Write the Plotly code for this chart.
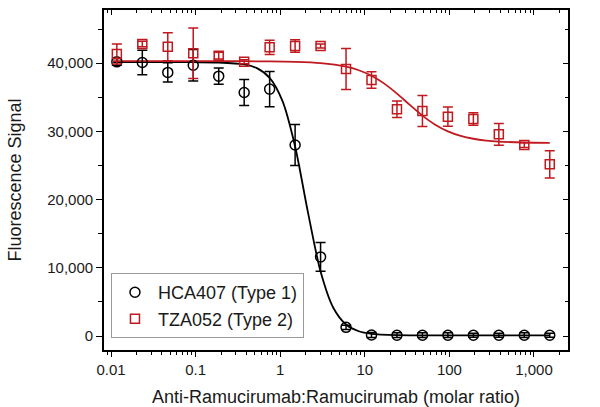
import plotly.graph_objects as go

# ---- data ----
ratio = [0.01171875, 0.0234375, 0.046875, 0.09375, 0.1875, 0.375, 0.75, 1.5, 3,
         6, 12, 24, 48, 96, 192, 384, 768, 1536]

hca407_signal = [40200, 40100, 38650, 39700, 38100, 35700, 36200, 28000, 11600,
                 1270, 150, 120, 120, 120, 120, 120, 120, 120]
hca407_err = [500, 1800, 1400, 2300, 1200, 1900, 2600, 3000, 2100,
              300, 350, 350, 350, 350, 300, 300, 350, 300]

tza052_signal = [41350, 42800, 42420, 41450, 41100, 40220, 42330, 42520, 42520,
                 39150, 37540, 33240, 32990, 32160, 31820, 29570, 28000, 25180]
tza052_err = [1450, 400, 2050, 3700, 500, 300, 1050, 900, 300,
              3000, 1200, 1200, 2270, 1400, 930, 1600, 350, 2000]

hca407_fit_x = [0.0106, 0.0234, 0.0469, 0.094, 0.1875, 0.375, 0.53, 0.75, 1.06, 1.5,
                2.12, 3, 4.24, 6, 8.49, 12, 24, 48, 96, 192, 384, 768, 1536]
hca407_fit_y = [40150, 40150, 40150, 40144, 40105, 39828, 39276, 37858, 34507, 27797,
                18239, 9449, 4145, 1689, 700, 324, 130, 104, 100, 100, 100, 100, 100]

tza052_fit_x = [0.0106, 0.0469, 0.1875, 0.75, 1.5, 3, 6, 8.49, 12, 17, 24, 34, 48,
                68, 96, 136, 192, 272, 384, 768, 1536]
tza052_fit_y = [40300, 40300, 40297, 40269, 40207, 40023, 39499, 38969, 38162, 37004,
                35539, 33887, 32312, 30979, 30005, 29339, 28922, 28664, 28512, 28371, 28324]

x_tick_vals = [0.01, 0.1, 1, 10, 100, 1000]
x_tick_text = ["0.01", "0.1", "1", "10", "100", "1,000"]
y_tick_vals = [0, 10000, 20000, 30000, 40000]
y_tick_text = ["0", "10,000", "20,000", "30,000", "40,000"]
y_minor_vals = [5000, 15000, 25000, 35000, 45000]

series_names = ["HCA407 (Type 1)", "TZA052 (Type 2)"]
x_title = "Anti-Ramucirumab:Ramucirumab (molar ratio)"
y_title = "Fluorescence Signal"

# ---- styling ----
RED = "#c0191f"
BLACK = "#000000"
FONT = "Arial, 'Liberation Sans', sans-serif"

x_minor_vals = [m * 10 ** d for d in range(-3, 4) for m in range(2, 10)]
x_range = [-2.083, 3.402]
y_range = [-2050, 47800]

fig = go.Figure()

fig.add_trace(go.Scatter(x=hca407_fit_x, y=hca407_fit_y, mode="lines",
                         line=dict(color=BLACK, width=1.8, shape="spline", smoothing=0.8),
                         showlegend=False, hoverinfo="skip"))
fig.add_trace(go.Scatter(x=tza052_fit_x, y=tza052_fit_y, mode="lines",
                         line=dict(color=RED, width=1.8, shape="spline", smoothing=0.8),
                         showlegend=False, hoverinfo="skip"))

fig.add_trace(go.Scatter(
    x=ratio, y=hca407_signal, mode="markers", name=series_names[0],
    marker=dict(symbol="circle-open", size=10, color=BLACK, line=dict(width=1.5, color=BLACK)),
    error_y=dict(type="data", array=hca407_err, visible=True, color=BLACK, thickness=1.5, width=5),
))
fig.add_trace(go.Scatter(
    x=ratio, y=tza052_signal, mode="markers", name=series_names[1],
    marker=dict(symbol="square-open", size=9, color=RED, line=dict(width=1.5, color=RED)),
    error_y=dict(type="data", array=tza052_err, visible=True, color=RED, thickness=1.5, width=5),
))

# invisible trace to host the mirror (top/right) axes
fig.add_trace(go.Scatter(x=[1], y=[20000], xaxis="x2", yaxis="y2", mode="markers",
                         marker=dict(opacity=0), showlegend=False, hoverinfo="skip"))

common_axis = dict(showgrid=False, zeroline=False, showline=True, linecolor=BLACK,
                   linewidth=1.7, tickcolor=BLACK, tickwidth=1.3, automargin=False)

fig.update_layout(
    width=600, height=407,
    margin=dict(l=104, r=32, t=10, b=57),
    paper_bgcolor="white", plot_bgcolor="white",
    font=dict(family=FONT, size=15, color="#1a1a1a"),
    xaxis=dict(type="log", range=x_range, tickvals=x_tick_vals, ticktext=x_tick_text,
               ticks="outside", ticklen=5,
               minor=dict(tickvals=x_minor_vals, ticks="outside", ticklen=3, tickcolor=BLACK, tickwidth=1),
               title=dict(text=x_title, font=dict(size=18), standoff=17),
               **common_axis),
    xaxis2=dict(type="log", range=x_range, overlaying="x", anchor="y", side="top",
                tickvals=x_tick_vals, showticklabels=False, ticks="inside", ticklen=5,
                minor=dict(tickvals=x_minor_vals, ticks="inside", ticklen=3, tickcolor=BLACK, tickwidth=1),
                **common_axis),
    yaxis=dict(range=y_range, tickvals=y_tick_vals, ticktext=y_tick_text,
               ticks="outside", ticklen=6,
               minor=dict(tickvals=y_minor_vals, ticks="outside", ticklen=4, tickcolor=BLACK, tickwidth=1),
               title=dict(text=y_title, font=dict(size=18), standoff=21),
               **common_axis),
    yaxis2=dict(range=y_range, overlaying="y", anchor="x", side="right",
                tickvals=y_tick_vals, showticklabels=False, ticks="inside", ticklen=5,
                minor=dict(tickvals=y_minor_vals, ticks="inside", ticklen=3, tickcolor=BLACK, tickwidth=1),
                **common_axis),
    legend=dict(x=0.015, y=0.035, xanchor="left", yanchor="bottom",
                bgcolor="white", bordercolor="#999999", borderwidth=1,
                font=dict(size=18, color="#1a1a1a"), itemwidth=36,
                tracegroupgap=0),
    showlegend=True,
)

fig.write_html("out.html")
